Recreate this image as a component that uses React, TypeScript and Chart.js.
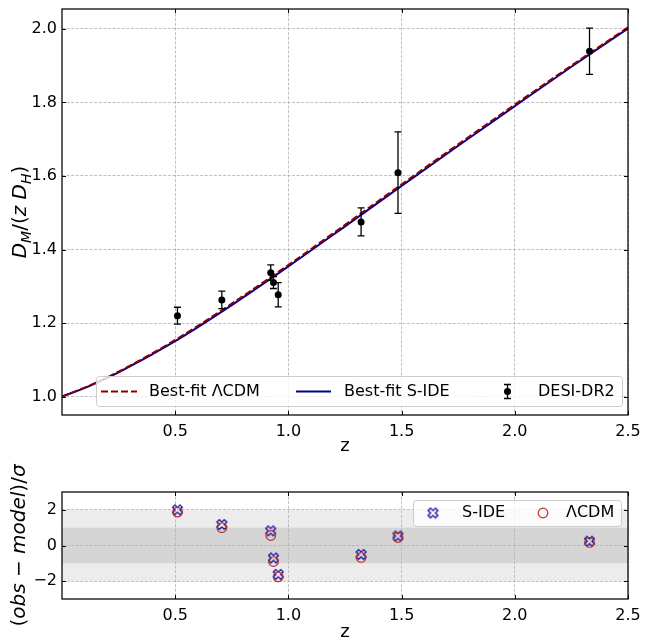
import React, { useEffect, useRef } from 'react';
import { Chart, registerables } from 'chart.js';

Chart.register(...registerables);

// ---------- data ----------
const zModel = [0, 0.125, 0.25, 0.5, 0.75, 1.0, 1.25, 1.5, 1.75, 2.0, 2.25, 2.5];
const lcdmModel = [1.0, 1.031, 1.068, 1.154, 1.253, 1.358, 1.467, 1.577, 1.686, 1.794, 1.9, 2.004];
const sideModel = [1.0, 1.03, 1.066, 1.151, 1.249, 1.354, 1.463, 1.573, 1.682, 1.79, 1.897, 2.001];

const zDesi = [0.51, 0.706, 0.922, 0.934, 0.955, 1.321, 1.484, 2.33];
const desiValues = [1.22, 1.263, 1.337, 1.31, 1.277, 1.475, 1.609, 1.939];
const desiErrors = [0.023, 0.024, 0.021, 0.016, 0.033, 0.038, 0.111, 0.063];

const sideResiduals = [2.0, 1.18, 0.82, -0.7, -1.62, -0.5, 0.53, 0.24];
const lcdmResiduals = [1.87, 1.0, 0.56, -0.9, -1.76, -0.67, 0.45, 0.17];

const xTicks = [0.5, 1.0, 1.5, 2.0, 2.5];
const topYTicks = [1.0, 1.2, 1.4, 1.6, 1.8, 2.0];
const bottomYTicks = [-2, 0, 2];

// ---------- style ----------
const FONT = '"DejaVu Sans", sans-serif';
const RED = '#8b0000';
const NAVY = '#00008b';
const MARKER_BLUE = '#1212a8';
const MARKER_RED = '#c0302a';
const GRID = '#b0b0b0';
const BOT_TOP = 440; // page offset of the lower canvas

function makeXMarker(color: string) {
  const size = 13;
  const c = document.createElement('canvas');
  c.width = size;
  c.height = size;
  const ctx = c.getContext('2d')!;
  ctx.translate(size / 2, size / 2);
  ctx.rotate(Math.PI / 4);
  const s = 5.2;
  const w = 1.7;
  const pts = [[-w, -s], [w, -s], [w, -w], [s, -w], [s, w], [w, w], [w, s], [-w, s], [-w, w], [-s, w], [-s, -w], [-w, -w]];
  ctx.beginPath();
  pts.forEach(([x, y], i) => (i ? ctx.lineTo(x, y) : ctx.moveTo(x, y)));
  ctx.closePath();
  ctx.strokeStyle = color;
  ctx.lineWidth = 1.3;
  ctx.stroke();
  return c;
}

type Piece = { t: string; i?: boolean; sub?: boolean };

function drawRotatedRich(ctx: CanvasRenderingContext2D, pieces: Piece[], cx: number, cy: number, size: number) {
  ctx.save();
  ctx.translate(cx, cy);
  ctx.rotate(-Math.PI / 2);
  const fontFor = (p: Piece) => `${p.i ? 'italic ' : ''}${p.sub ? size * 0.7 : size}px ${FONT}`;
  const widths = pieces.map((p) => {
    ctx.font = fontFor(p);
    return ctx.measureText(p.t).width;
  });
  const total = widths.reduce((a, b) => a + b, 0);
  let x = -total / 2;
  ctx.fillStyle = '#000';
  ctx.textBaseline = 'alphabetic';
  ctx.textAlign = 'left';
  const base = size * 0.36;
  pieces.forEach((p, k) => {
    ctx.font = fontFor(p);
    ctx.fillText(p.t, x, base + (p.sub ? size * 0.22 : 0));
    x += widths[k];
  });
  ctx.restore();
}

function roundRect(ctx: CanvasRenderingContext2D, x: number, y: number, w: number, h: number, r: number) {
  ctx.beginPath();
  ctx.moveTo(x + r, y);
  ctx.lineTo(x + w - r, y);
  ctx.arcTo(x + w, y, x + w, y + r, r);
  ctx.lineTo(x + w, y + h - r);
  ctx.arcTo(x + w, y + h, x + w - r, y + h, r);
  ctx.lineTo(x + r, y + h);
  ctx.arcTo(x, y + h, x, y + h - r, r);
  ctx.lineTo(x, y + r);
  ctx.arcTo(x, y, x + r, y, r);
  ctx.closePath();
}

function legendBox(ctx: CanvasRenderingContext2D, x: number, y: number, w: number, h: number) {
  roundRect(ctx, x, y, w, h, 3);
  ctx.fillStyle = 'rgba(255,255,255,0.8)';
  ctx.fill();
  ctx.strokeStyle = '#cccccc';
  ctx.lineWidth = 1;
  ctx.stroke();
}

function framePlugin(yTicks: number[], extras: (chart: any) => void) {
  return {
    id: 'frameTicks',
    afterDraw(chart: any) {
      const { ctx, chartArea: a, scales } = chart;
      ctx.save();
      ctx.strokeStyle = '#000';
      ctx.lineWidth = 1;
      const L = 4;
      ctx.beginPath();
      for (const v of xTicks) {
        const x = Math.round(scales.x.getPixelForValue(v)) + 0.5;
        ctx.moveTo(x, a.bottom);
        ctx.lineTo(x, a.bottom - L);
        ctx.moveTo(x, a.top);
        ctx.lineTo(x, a.top + L);
      }
      for (const v of yTicks) {
        const y = Math.round(scales.y.getPixelForValue(v)) + 0.5;
        ctx.moveTo(a.left, y);
        ctx.lineTo(a.left + L, y);
        ctx.moveTo(a.right, y);
        ctx.lineTo(a.right - L, y);
      }
      ctx.stroke();
      ctx.lineWidth = 1.25;
      ctx.strokeRect(a.left, a.top, a.right - a.left, a.bottom - a.top);
      ctx.restore();
      ctx.save();
      extras(chart);
      ctx.restore();
    },
  };
}

function axisX(height: number) {
  return {
    type: 'linear' as const,
    min: 0,
    max: 2.5,
    afterBuildTicks: (s: any) => {
      s.ticks = xTicks.map((v) => ({ value: v }));
    },
    afterFit: (s: any) => {
      s.height = height;
      s.paddingLeft = 0;
      s.paddingRight = 0;
    },
    grid: { color: GRID, lineWidth: 0.8, drawTicks: false },
    border: { display: false, dash: [3, 1.6] },
    ticks: {
      color: '#000',
      font: { family: FONT, size: 16 },
      padding: 7,
      maxRotation: 0,
      autoSkip: false,
      callback: (v: any) => Number(v).toFixed(1),
    },
  };
}

function axisY(min: number, max: number, ticks: number[], fmt: (v: number) => string) {
  return {
    type: 'linear' as const,
    min,
    max,
    afterBuildTicks: (s: any) => {
      s.ticks = ticks.map((v) => ({ value: v }));
    },
    afterFit: (s: any) => {
      s.width = 62;
      s.paddingTop = 0;
      s.paddingBottom = 0;
    },
    grid: { color: GRID, lineWidth: 0.8, drawTicks: false },
    border: { display: false, dash: [3, 1.6] },
    ticks: {
      color: '#000',
      font: { family: FONT, size: 16 },
      padding: 5,
      autoSkip: false,
      callback: (v: any) => fmt(Number(v)),
    },
  };
}

export default function App() {
  const topRef = useRef<HTMLCanvasElement>(null);
  const botRef = useRef<HTMLCanvasElement>(null);

  useEffect(() => {
    const xMarker = makeXMarker(MARKER_BLUE);

    const errorBars = {
      id: 'errorBars',
      afterDatasetsDraw(chart: any) {
        const { ctx, scales } = chart;
        ctx.save();
        ctx.strokeStyle = '#000';
        ctx.lineWidth = 1.3;
        ctx.beginPath();
        zDesi.forEach((z, i) => {
          const x = scales.x.getPixelForValue(z);
          const y1 = scales.y.getPixelForValue(desiValues[i] + desiErrors[i]);
          const y2 = scales.y.getPixelForValue(desiValues[i] - desiErrors[i]);
          ctx.moveTo(x, y1);
          ctx.lineTo(x, y2);
          ctx.moveTo(x - 3.5, y1);
          ctx.lineTo(x + 3.5, y1);
          ctx.moveTo(x - 3.5, y2);
          ctx.lineTo(x + 3.5, y2);
        });
        ctx.stroke();
        ctx.restore();
      },
    };

    const topExtras = (chart: any) => {
      const { ctx, chartArea: a } = chart;
      // legend
      legendBox(ctx, 96.5, 376.5, 526, 30);
      const cy = 391.5;
      ctx.lineWidth = 2;
      ctx.strokeStyle = RED;
      ctx.setLineDash([7, 3]);
      ctx.beginPath();
      ctx.moveTo(101, cy);
      ctx.lineTo(137, cy);
      ctx.stroke();
      ctx.setLineDash([]);
      ctx.strokeStyle = NAVY;
      ctx.beginPath();
      ctx.moveTo(296, cy);
      ctx.lineTo(331, cy);
      ctx.stroke();
      ctx.strokeStyle = '#000';
      ctx.lineWidth = 1.3;
      ctx.beginPath();
      ctx.moveTo(507.5, cy - 7);
      ctx.lineTo(507.5, cy + 7);
      ctx.moveTo(504, cy - 7);
      ctx.lineTo(511, cy - 7);
      ctx.moveTo(504, cy + 7);
      ctx.lineTo(511, cy + 7);
      ctx.stroke();
      ctx.fillStyle = '#000';
      ctx.beginPath();
      ctx.arc(507.5, cy, 3.5, 0, Math.PI * 2);
      ctx.fill();
      ctx.font = `16px ${FONT}`;
      ctx.textBaseline = 'middle';
      ctx.textAlign = 'left';
      ctx.fillText('Best-fit ΛCDM', 149, cy);
      ctx.fillText('Best-fit S-IDE', 344, cy);
      ctx.fillText('DESI-DR2', 538, cy);
      // axis titles
      ctx.textAlign = 'center';
      ctx.font = `18px ${FONT}`;
      ctx.fillText('z', (a.left + a.right) / 2, 446);
      drawRotatedRich(
        ctx,
        [
          { t: 'D', i: true },
          { t: 'M', i: true, sub: true },
          { t: '/(' },
          { t: 'z', i: true },
          { t: ' ' },
          { t: 'D', i: true },
          { t: 'H', i: true, sub: true },
          { t: ')' },
        ],
        19,
        (a.top + a.bottom) / 2,
        20
      );
    };

    const top = new Chart(topRef.current!, {
      type: 'scatter',
      data: {
        datasets: [
          {
            label: 'DESI-DR2',
            data: zDesi.map((z, i) => ({ x: z, y: desiValues[i] })),
            pointRadius: 3.5,
            pointBackgroundColor: '#000',
            pointBorderWidth: 0,
            order: 0,
          },
          {
            type: 'line',
            label: 'Best-fit ΛCDM',
            data: zModel.map((z, i) => ({ x: z, y: lcdmModel[i] })),
            borderColor: RED,
            borderWidth: 2,
            borderDash: [7, 3],
            pointRadius: 0,
            cubicInterpolationMode: 'monotone',
            order: 1,
          },
          {
            type: 'line',
            label: 'Best-fit S-IDE',
            data: zModel.map((z, i) => ({ x: z, y: sideModel[i] })),
            borderColor: NAVY,
            borderWidth: 2,
            pointRadius: 0,
            cubicInterpolationMode: 'monotone',
            order: 2,
          },
        ] as any,
      },
      options: {
        responsive: false,
        animation: false,
        events: [],
        layout: { padding: { top: 9, right: 24, left: 0, bottom: 0 } },
        plugins: { legend: { display: false }, tooltip: { enabled: false } },
        scales: {
          x: axisX(45),
          y: axisY(0.95, 2.054, topYTicks, (v) => v.toFixed(1)),
        } as any,
      },
      plugins: [errorBars, framePlugin(topYTicks, topExtras)],
    });

    const bands = {
      id: 'bands',
      beforeDraw(chart: any) {
        const { ctx, chartArea: a, scales } = chart;
        const band = (lo: number, hi: number, color: string) => {
          const y1 = scales.y.getPixelForValue(hi);
          const y2 = scales.y.getPixelForValue(lo);
          ctx.fillStyle = color;
          ctx.fillRect(a.left, y1, a.right - a.left, y2 - y1);
        };
        ctx.save();
        band(-2, 2, '#ececec');
        band(-1, 1, '#d5d5d5');
        ctx.restore();
      },
    };

    const botExtras = (chart: any) => {
      const { ctx, chartArea: a } = chart;
      legendBox(ctx, 413.5, 500.5 - BOT_TOP, 208, 26);
      const cy = 513 - BOT_TOP;
      ctx.drawImage(xMarker, 433 - xMarker.width / 2, cy - xMarker.height / 2);
      ctx.strokeStyle = MARKER_RED;
      ctx.lineWidth = 1.2;
      ctx.beginPath();
      ctx.arc(543, cy, 4.8, 0, Math.PI * 2);
      ctx.stroke();
      ctx.fillStyle = '#000';
      ctx.font = `16px ${FONT}`;
      ctx.textBaseline = 'middle';
      ctx.textAlign = 'left';
      ctx.fillText('S-IDE', 462, cy);
      ctx.fillText('ΛCDM', 566, cy);
      ctx.textAlign = 'center';
      ctx.font = `18px ${FONT}`;
      ctx.fillText('z', (a.left + a.right) / 2, 632 - BOT_TOP);
      drawRotatedRich(
        ctx,
        [
          { t: '(' },
          { t: 'obs', i: true },
          { t: ' − ' },
          { t: 'model', i: true },
          { t: ')/' },
          { t: 'σ', i: true },
        ],
        18,
        (a.top + a.bottom) / 2,
        20
      );
    };

    const bot = new Chart(botRef.current!, {
      type: 'scatter',
      data: {
        datasets: [
          {
            label: 'ΛCDM',
            data: zDesi.map((z, i) => ({ x: z, y: lcdmResiduals[i] })),
            pointStyle: 'circle',
            pointRadius: 4.8,
            pointBorderColor: MARKER_RED,
            pointBackgroundColor: 'rgba(0,0,0,0)',
            pointBorderWidth: 1.2,
            order: 0,
          },
          {
            label: 'S-IDE',
            data: zDesi.map((z, i) => ({ x: z, y: sideResiduals[i] })),
            pointStyle: xMarker,
            pointRadius: 5,
            order: 1,
          },
        ] as any,
      },
      options: {
        responsive: false,
        animation: false,
        events: [],
        layout: { padding: { top: 492 - BOT_TOP, right: 24, left: 0, bottom: 0 } },
        plugins: { legend: { display: false }, tooltip: { enabled: false } },
        scales: {
          x: axisX(43),
          y: axisY(-3, 3, bottomYTicks, (v) => (v < 0 ? '−' + Math.abs(v) : String(v))),
        } as any,
      },
      plugins: [bands, framePlugin(bottomYTicks, botExtras)],
    });

    return () => {
      top.destroy();
      bot.destroy();
    };
  }, []);

  return (
    <div style={{ position: 'absolute', left: 0, top: 0, width: 652, height: 642, background: '#fff' }}>
      <canvas
        ref={topRef}
        width={652}
        height={460}
        style={{ position: 'absolute', left: 0, top: 0, width: 652, height: 460 }}
      />
      <canvas
        ref={botRef}
        width={652}
        height={642 - BOT_TOP}
        style={{ position: 'absolute', left: 0, top: BOT_TOP, width: 652, height: 642 - BOT_TOP }}
      />
    </div>
  );
}
